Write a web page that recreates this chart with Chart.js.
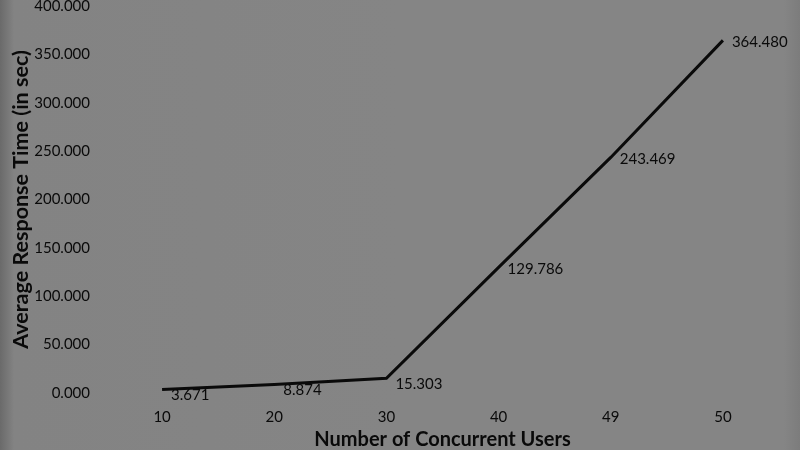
<!DOCTYPE html>
<html>
<head>
<meta charset="utf-8">
<script src="https://cdn.jsdelivr.net/npm/chart.js@4"></script>
<style>
    html, body { margin: 0; padding: 0; }
    body {
        width: 800px; height: 450px; overflow: hidden;
        background: linear-gradient(to right, #6a6a6a 0px, #838383 14px, #858585 50%, #858585 98%, #7c7c7c 100%);
    }
    #wrap { position: relative; width: 800px; height: 450px; }
</style>
</head>
<body>
<div id="wrap"><canvas id="chart" width="800" height="450"></canvas></div>
<script>
const users = ['10', '20', '30', '40', '49', '50'];
const responseTimes = [3.671, 8.874, 15.303, 129.786, 243.469, 364.48];
const yTicks = [0, 50, 100, 150, 200, 250, 300, 350, 400];

const FONT = 'Lato, Carlito, Calibri, sans-serif';
const INK = '#0a0a0a';

// draws the value next to every point of the line
const valueLabels = {
    id: 'valueLabels',
    afterDatasetsDraw(chart) {
        const { ctx } = chart;
        const meta = chart.getDatasetMeta(0);
        ctx.save();
        ctx.font = `15px ${FONT}`;
        ctx.fillStyle = INK;
        ctx.textAlign = 'left';
        ctx.textBaseline = 'middle';
        meta.data.forEach((pt, i) => {
            const dy = i < 3 ? 6 : 2;
            ctx.fillText(responseTimes[i].toFixed(3), pt.x + 9, pt.y + dy);
        });
        ctx.restore();
    },
};

new Chart(document.getElementById('chart'), {
    type: 'line',
    data: {
        labels: users,
        datasets: [{
            data: responseTimes,
            borderColor: INK,
            borderWidth: 3,
            pointRadius: 0,
            tension: 0,
            fill: false,
        }],
    },
    options: {
        responsive: false,
        animation: false,
        layout: { padding: { top: 6, right: 21, bottom: 0, left: 0 } },
        plugins: { legend: { display: false }, tooltip: { enabled: false } },
        scales: {
            x: {
                offset: true,
                grid: { display: false, drawTicks: false },
                border: { display: false },
                ticks: { color: INK, font: { family: FONT, size: 15 }, padding: 15, maxRotation: 0 },
                title: {
                    display: true,
                    text: 'Number of Concurrent Users',
                    color: INK,
                    font: { family: FONT, size: 20, weight: 'bold', lineHeight: 1 },
                    padding: { top: 0, bottom: 0 },
                },
                afterFit(s) { s.height = 57; },
            },
            y: {
                min: 0,
                max: 400,
                afterBuildTicks(s) { s.ticks = yTicks.map((v) => ({ value: v })); },
                grid: { display: false, drawTicks: false },
                border: { display: false },
                ticks: {
                    color: INK,
                    font: { family: FONT, size: 15 },
                    padding: 16,
                    callback: (v) => Number(v).toFixed(3),
                },
                title: {
                    display: true,
                    text: 'Average Response Time (in sec)',
                    color: INK,
                    font: { family: FONT, size: 21.5, weight: 'bold', lineHeight: 1 },
                    padding: { top: 10, bottom: 0 },
                },
                afterFit(s) { s.width = 106; s.paddingTop = 0; s.paddingBottom = 0; },
            },
        },
    },
    plugins: [valueLabels],
});
</script>
</body>
</html>
